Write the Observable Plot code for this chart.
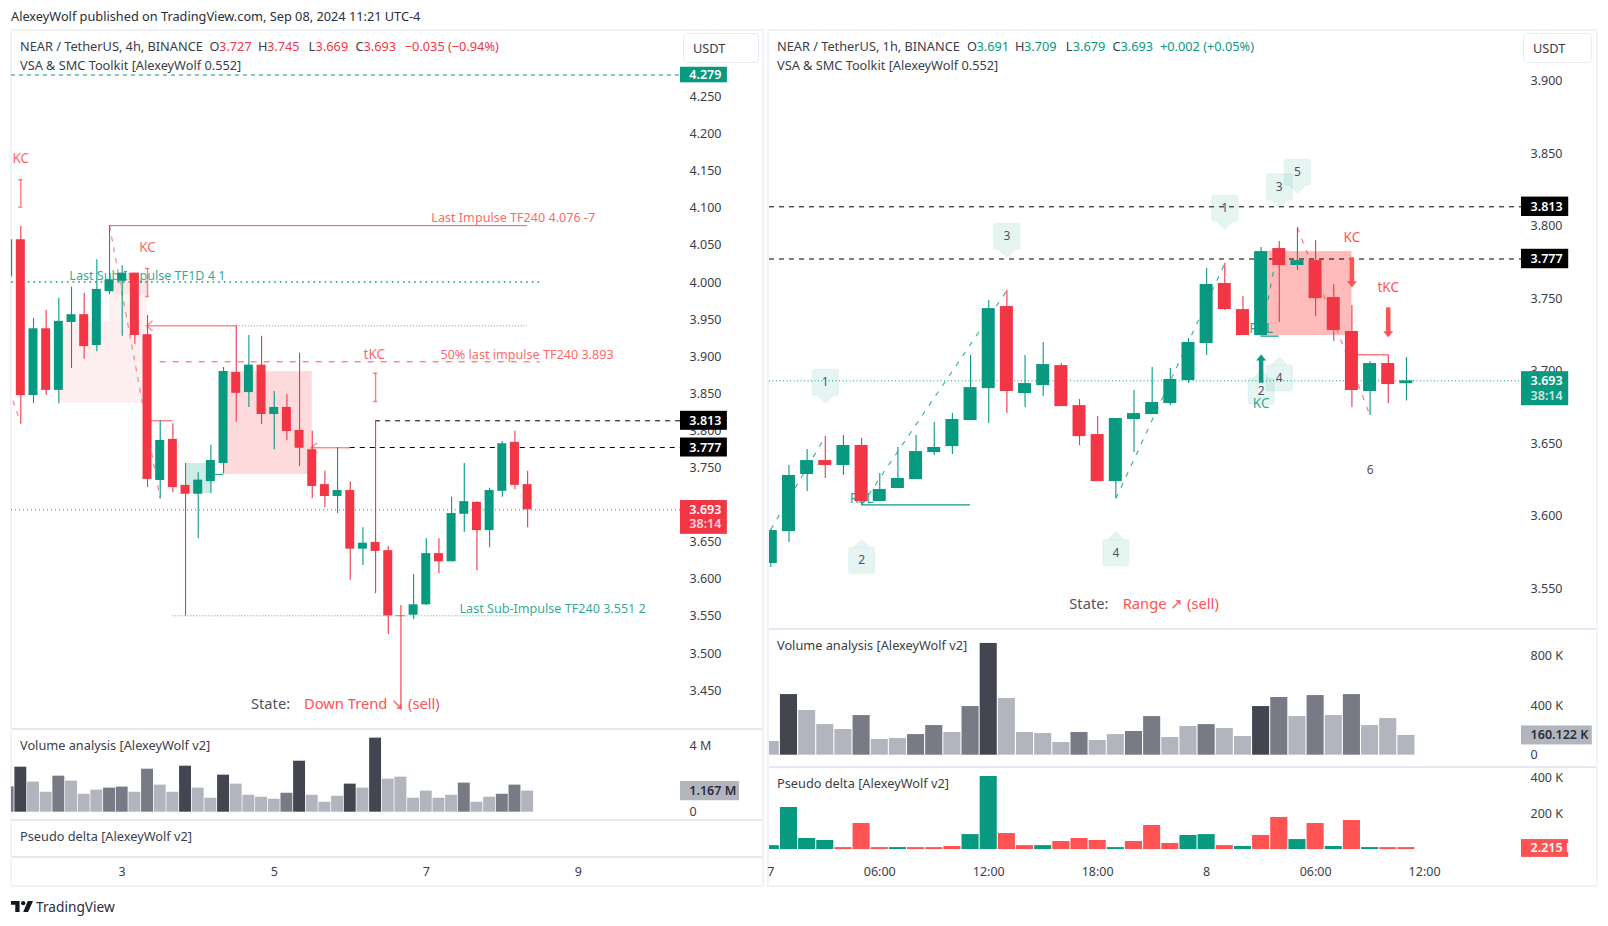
<!DOCTYPE html>
<html><head><meta charset="utf-8">
<script src="https://cdn.jsdelivr.net/npm/d3@7"></script>
<script src="https://cdn.jsdelivr.net/npm/@observablehq/plot@0.6"></script>
<style>
html,body{margin:0;padding:0;background:#fff;width:1608px;height:926px;overflow:hidden}
body{font-family:"Noto Sans",sans-serif;color:#3a3e4a;position:relative}
.abs{position:absolute;white-space:pre;font-size:12.75px;line-height:16px;transform:translateY(calc(-50% - 1px))}
.pane{position:absolute;box-sizing:border-box;border:2px solid #f0f3fa}
.div{position:absolute;height:1.5px;background:#e6e8f0}
.btn{position:absolute;box-sizing:border-box;background:#fff;border:1px solid #e9ebf2;border-radius:5px}
.mount{position:absolute}
.mount svg{overflow:visible;background:transparent}
</style></head><body><div id="root"></div>
<script>
// ---------- 4h chart (index -1 is the candle cut by the left edge) ----------
const leftOpen  =[4.007,4.057,3.847,3.937,3.854,3.9455,3.956,3.9145,3.987,4.001,4.012,3.929,3.7326,3.788,3.726,3.714,3.731,3.7555,3.878,3.851,3.888,3.8215,3.831,3.800,3.774,3.727,3.711,3.719,3.640,3.649,3.638,3.550,3.551,3.565,3.634,3.623,3.687,3.703,3.665,3.718,3.784,3.727];
const leftHigh  =[4.057,4.075,3.951,3.962,3.978,3.993,3.985,4.030,4.076,4.022,4.012,3.955,3.813,3.809,3.7555,3.743,3.780,3.885,3.941,3.928,3.927,3.8525,3.8485,3.904,3.799,3.745,3.777,3.731,3.669,3.813,3.644,3.564,3.606,3.654,3.654,3.710,3.7555,3.704,3.722,3.785,3.799,3.745];
const leftLow   =[4.007,3.809,3.836,3.847,3.836,3.8835,3.896,3.906,3.983,3.927,3.916,3.723,3.708,3.716,3.550,3.654,3.715,3.741,3.811,3.831,3.808,3.774,3.786,3.7515,3.708,3.696,3.688,3.598,3.618,3.580,3.525,3.423,3.545,3.564,3.607,3.623,3.6625,3.611,3.642,3.710,3.720,3.669];
const leftClose =[4.057,3.847,3.937,3.854,3.947,3.956,3.913,3.990,4.003,4.012,3.928,3.734,3.7865,3.723,3.714,3.733,3.7595,3.8795,3.850,3.888,3.8215,3.831,3.7986,3.776,3.7245,3.711,3.719,3.640,3.648,3.637,3.550,3.549,3.565,3.634,3.623,3.688,3.704,3.665,3.719,3.782,3.726,3.693];
const leftVolM  =[1.53,2.71,1.81,1.20,2.17,1.87,1.08,1.33,1.45,1.51,1.20,2.59,1.63,1.20,2.77,1.45,0.84,2.23,1.69,1.02,0.90,0.78,1.14,3.07,1.02,0.60,0.96,1.69,1.45,4.46,1.99,2.11,0.84,1.27,0.84,1.02,1.75,0.60,0.90,1.08,1.63,1.27];
const leftVolClass=[1,2,0,0,1,0,0,0,1,1,0,1,0,0,2,0,0,2,0,0,0,0,1,2,0,0,0,2,0,2,0,0,0,0,0,0,1,0,0,1,1,0];
const leftPriceTicks=[4.25,4.2,4.15,4.1,4.05,4.0,3.95,3.9,3.85,3.8,3.75,3.7,3.65,3.6,3.55,3.5,3.45];
const leftDayTicks=[8,20,32,44];
const leftDayLabels=["3","5","7","9"];
const leftNotes=[
  {t:"Last Impulse TF240 4.076 -7",i:32.4,p:4.0864},
  {t:"50% last impulse TF240 3.893",i:33.12,p:3.9015}
];
const leftKcNotes=[
  {t:"tKC",i:27.9,p:3.902},
  {t:"KC",i:0,p:4.166},
  {t:"KC",i:10,p:4.0457}
];
const leftTealNotes=[
  {t:"Last Sub-Impulse TF1D 4 1",i:3.83,p:4.0084},
  {t:"Last Sub-Impulse TF240 3.551 2",i:34.62,p:3.5592}
];
// ---------- 1h chart ----------
const rightOpen =[3.5670,3.5890,3.6284,3.6380,3.6346,3.6484,3.6097,3.6187,3.6249,3.6435,3.6476,3.6656,3.6876,3.7442,3.6842,3.6897,3.7035,3.6759,3.6559,3.6235,3.6663,3.6697,3.6773,3.6932,3.7187,3.7601,3.7421,3.7242,3.7842,3.7725,3.7759,3.7504,3.7270,3.6856,3.7049,3.691];
const rightHigh =[3.5904,3.6346,3.6456,3.6546,3.6553,3.6532,3.6290,3.6470,3.6553,3.6642,3.6704,3.7104,3.7483,3.7552,3.7104,3.7194,3.7049,3.6801,3.6683,3.6670,3.6863,3.7021,3.7015,3.7221,3.7704,3.7739,3.7511,3.7849,3.7890,3.7987,3.7897,3.7594,3.7449,3.7063,3.7109,3.709];
const rightLow  =[3.5642,3.5815,3.6166,3.6256,3.6277,3.6074,3.6097,3.6187,3.6249,3.6415,3.6421,3.6656,3.6635,3.6704,3.6745,3.6821,3.6752,3.6483,3.6235,3.6118,3.6435,3.6697,3.6759,3.6911,3.7104,3.7415,3.7242,3.7242,3.7332,3.7690,3.7373,3.7201,3.6746,3.6690,3.6773,3.679];
const rightClose=[3.5897,3.6277,3.6380,3.6346,3.6484,3.6097,3.6180,3.6256,3.6442,3.6470,3.6663,3.6883,3.7428,3.6856,3.6911,3.7042,3.6752,3.6545,3.6235,3.6670,3.6704,3.6780,3.6939,3.7194,3.7594,3.7421,3.7242,3.7821,3.7725,3.7759,3.7497,3.7277,3.6863,3.7049,3.6904,3.693];
const rightVolK =[111,491,362,248,208,321,127,135,167,240,184,394,905,459,184,176,103,184,119,167,192,313,143,232,248,216,151,394,467,313,483,321,491,240,297,160];
const rightVolClass=[0,2,0,0,0,1,0,0,1,1,0,1,2,0,0,0,0,1,0,0,1,1,0,0,1,0,0,2,1,0,1,0,1,0,0,0];
const rightDeltaK=[22,236,62,51,-11,-146,-11,11,-11,-11,-17,84,410,-90,-22,22,-45,-62,-51,11,-45,-135,-34,79,84,-22,17,-79,-180,56,-146,17,-163,11,-11,-11];
const rightPriceTicks=[3.9,3.85,3.8,3.75,3.7,3.65,3.6,3.55];
const rightHourTicks=[0,6,12,18,24,30,36];
const rightHourLabels=["7","06:00","12:00","18:00","8","06:00","12:00"];
const bubblesDown=[{n:"1",j:3,p:3.692},{n:"3",j:13,p:3.7927},{n:"1",j:25,p:3.812},{n:"3",j:28,p:3.8268},{n:"5",j:29,p:3.8369}];
const bubblesUp=[{n:"2",j:5,p:3.569},{n:"4",j:19,p:3.5744},{n:"2",j:27,p:3.6858},{n:"4",j:28,p:3.695}];
const rightRedNotes=[{t:"KC",j:32,p:3.7916},{t:"tKC",j:34,p:3.7575}];
const rightTealKc=[{t:"KC",j:27,p:3.6771}];
const rightTealRsl=[{t:"RSL",j:5,p:3.612},{t:"RSL",j:27,p:3.7293}];

const GREEN="#089981",RED="#f23645",SOFT="#ff5252",FONT='"Noto Sans",sans-serif';
const shade=["#b2b5be","#787b86","#434651"];
const root=document.getElementById("root");
function mount(node,left,top){const d=document.createElement("div");d.className="mount";d.style.left=left+"px";d.style.top=top+"px";d.appendChild(node);root.appendChild(d);}
function html(cls,css,text){const d=document.createElement("div");d.className=cls;Object.assign(d.style,css);if(text!=null)d.textContent=text;root.appendChild(d);return d;}
function label(x,y,text,color,size){return html("abs",{left:x+"px",top:y+"px",color:color||"#3a3e4a",fontSize:(size||12.75)+"px"},text);}
const style={fontFamily:FONT,fontSize:"12px",background:"transparent",overflow:"visible",color:"#3a3e4a"};

const zip=(o,h,l,c,start)=>o.map((_,k)=>({i:k+start,o:o[k],h:h[k],l:l[k],c:c[k]}));
const leftBars=zip(leftOpen,leftHigh,leftLow,leftClose,-1);
const rightBars=zip(rightOpen,rightHigh,rightLow,rightClose,0);
const dirColor=d=>d.c>=d.o?GREEN:RED;
const candles=(bars,half)=>[
  Plot.ruleX(bars,{x:"i",y1:"l",y2:"h",stroke:dirColor,strokeWidth:1.1,clip:true}),
  Plot.rect(bars,{x1:d=>d.i-half,x2:d=>d.i+half,y1:"o",y2:"c",fill:dirColor,clip:true})
];
const hline=(a,b,p,o)=>Plot.ruleY([p],{x1:()=>a,x2:()=>b,y:d=>d,...o});
const seg=(a,pa,b,pb,o)=>Plot.link([0],{x1:()=>a,y1:()=>pa,x2:()=>b,y2:()=>pb,...o});
const box=(a,b,p1,p2,o)=>Plot.rect([0],{x1:()=>a,x2:()=>b,y1:()=>p1,y2:()=>p2,...o});
const tagText=(x,p,t,color,o)=>Plot.text([t],{x:()=>x,y:()=>p,text:d=>d,fill:color,textAnchor:"start",fontWeight:600,fontSize:12.5,...o});
const ibeam=(i,p1,p2)=>[
  Plot.ruleX([i],{x:d=>d,y1:()=>p1,y2:()=>p2,stroke:SOFT,strokeOpacity:.75,strokeWidth:1.4}),
  Plot.ruleY([p1,p2],{x1:()=>i-.16,x2:()=>i+.16,y:d=>d,stroke:SOFT,strokeOpacity:.75,strokeWidth:1.4})
];
const chevron={draw(c){c.moveTo(5,-5);c.lineTo(-1,0);c.lineTo(5,5);}};
const headDown={draw(c){c.moveTo(-5,-5);c.lineTo(5,-5);c.lineTo(0,1);c.closePath();}};
const headUp={draw(c){c.moveTo(-5,5);c.lineTo(5,5);c.lineTo(0,-1);c.closePath();}};
const balloon=dir=>({draw(c){const w=13,h=13,r=2,t=8*dir;
  c.moveTo(-w+r,-h);c.lineTo(w-r,-h);c.quadraticCurveTo(w,-h,w,-h+r);
  if(dir>0){c.lineTo(w,h-r);c.quadraticCurveTo(w,h,w-r,h);c.lineTo(8,h);c.lineTo(0,h+t);c.lineTo(-8,h);c.lineTo(-w+r,h);c.quadraticCurveTo(-w,h,-w,h-r);c.lineTo(-w,-h+r);c.quadraticCurveTo(-w,-h,-w+r,-h);}
  else{c.lineTo(w,h-r);c.quadraticCurveTo(w,h,w-r,h);c.lineTo(-w+r,h);c.quadraticCurveTo(-w,h,-w,h-r);c.lineTo(-w,-h+r);c.quadraticCurveTo(-w,-h,-w+r,-h);c.lineTo(-8,-h);c.lineTo(0,-h+t);c.lineTo(8,-h);}
  c.closePath();}});

// ---------- frames ----------
html("pane",{left:"10px",top:"29px",width:"754px",height:"858px"});
html("pane",{left:"767px",top:"29px",width:"831px",height:"858px"});
[728,819,856].forEach(y=>html("div",{left:"12px",top:y+"px",width:"750px"}));
[628,766].forEach(y=>html("div",{left:"769px",top:y+"px",width:"827px"}));

// ---------- 4h price ----------
const lx=x=>(x-20.33)/12.67, lp=y=>3.813-(y-420.3)/742;
const LX0=lx(11),LX1=lx(680);
mount(Plot.plot({width:751,height:698,marginLeft:0,marginRight:82,marginTop:0,marginBottom:0,style,
  x:{domain:[LX0,LX1],axis:null},y:{domain:[lp(728),lp(30)]},
  marks:[
    box(3,10,3.9469,3.8364,{fill:RED,fillOpacity:.08}),
    box(7,10,4.003,3.9469,{fill:RED,fillOpacity:.07}),
    box(7.3,10,4.003,3.9833,{fill:RED,fillOpacity:.07}),
    box(16,23,3.8795,3.7407,{fill:RED,fillOpacity:.18}),
    box(13,15,3.7555,3.7151,{fill:GREEN,fillOpacity:.2}),
    Plot.text(leftNotes,{x:"i",y:"p",text:"t",fill:SOFT,fillOpacity:.9,textAnchor:"start",fontSize:12.6}),
    Plot.text(leftKcNotes,{x:"i",y:"p",text:"t",fill:SOFT,fillOpacity:.9,fontSize:13.5}),
    Plot.text(leftTealNotes,{x:"i",y:"p",text:"t",fill:GREEN,fillOpacity:.85,textAnchor:"start",fontSize:12.6}),
    hline(LX0,LX1,4.279,{stroke:GREEN,strokeDasharray:"4 4"}),
    hline(7,40,4.076,{stroke:SOFT}),
    hline(LX0,41,4.0,{stroke:GREEN,strokeWidth:1.6,strokeDasharray:"1.6 4"}),
    hline(10,17,3.941,{stroke:SOFT}),
    hline(17,40,3.941,{stroke:GREEN,strokeOpacity:.8,strokeDasharray:"1 2"}),
    hline(11,41,3.8925,{stroke:SOFT,strokeDasharray:"6 7"}),
    hline(10,12,3.813,{stroke:SOFT}),
    hline(15,16,3.7407,{stroke:GREEN}),
    hline(23,26,3.7766,{stroke:SOFT}),
    hline(26,LX1,3.777,{stroke:"#000",strokeDasharray:"5 5"}),
    hline(28,LX1,3.813,{stroke:"#000",strokeDasharray:"5 5"}),
    hline(12,39.5,3.5502,{stroke:GREEN,strokeOpacity:.8,strokeDasharray:"1 2"}),
    hline(LX0,LX1,3.693,{stroke:RED,strokeDasharray:"1 3"}),
    seg(7,4.076,11,3.708,{stroke:SOFT,strokeOpacity:.7,strokeDasharray:"5 6",strokeWidth:1.2}),
    seg(-.62,3.84,0,3.809,{stroke:SOFT,strokeOpacity:.7,strokeDasharray:"5 6",strokeWidth:1.2}),
    ...ibeam(0,4.1378,4.101),...ibeam(10,4.0183,3.9806),...ibeam(28,3.8771,3.839),
    Plot.dot([{i:10,p:3.941},{i:23,p:3.7766}],{x:"i",y:"p",symbol:chevron,fill:"none",stroke:SOFT,strokeOpacity:.6}),
    ...candles(leftBars,.355),
    Plot.axisY({anchor:"right",ticks:leftPriceTicks,tickFormat:d3.format(".3f"),tickSize:0,tickPadding:9,label:null,stroke:"none",fill:"#3a3e4a",fontSize:12.5,dy:0.5}),
    box(LX1,LX1+3.7,4.279+.0105,4.279-.0105,{fill:GREEN}),
    box(LX1,LX1+3.7,3.813+.0128,3.813-.0128,{fill:"#000"}),
    box(LX1,LX1+3.7,3.777+.0128,3.777-.0128,{fill:"#000"}),
    box(LX1,LX1+3.7,3.693+.0125,3.693-.033,{fill:RED}),
    tagText(LX1+.7,4.279,"4.279","#fff"),
    tagText(LX1+.7,3.813,"3.813","#fff"),
    tagText(LX1+.7,3.777,"3.777","#fff"),
    tagText(LX1+.7,3.693,"3.693","#fff"),
    tagText(LX1+.7,3.6735,"38:14","#fff",{fillOpacity:.8})
  ]}),11,30);

// ---------- 4h volume ----------
const leftVol=leftVolM.map((v,k)=>({i:k-1,v,s:leftVolClass[k]}));
mount(Plot.plot({width:751,height:91,marginLeft:0,marginRight:82,marginTop:0,marginBottom:0,style,
  x:{domain:[LX0,LX1],axis:null},y:{domain:[-.44,5.04]},
  marks:[
    Plot.rectY(leftVol,{x1:d=>d.i-.47,x2:d=>d.i+.47,y:"v",fill:d=>shade[d.s],clip:true}),
    Plot.axisY({anchor:"right",ticks:[0,4],tickFormat:d=>d?d+" M":"0",tickSize:0,tickPadding:9,label:null,stroke:"none",fill:"#3a3e4a",fontSize:12.5}),
    box(LX1,LX1+4.66,1.27+.58,1.27-.58,{fill:"#b2b5be"}),
    tagText(LX1+.7,1.27,"1.167 M","#2a2e39")
  ]}),11,728);

// ---------- 4h day axis ----------
mount(Plot.plot({width:751,height:30,marginLeft:0,marginRight:82,marginTop:0,marginBottom:29,style,
  x:{domain:[LX0,LX1]},
  marks:[Plot.axisX({anchor:"bottom",ticks:leftDayTicks,tickFormat:d=>leftDayLabels[leftDayTicks.indexOf(d)],tickSize:0,tickPadding:10,label:null,stroke:"none",fill:"#3a3e4a",fontSize:12.5})]}),11,856);

// ---------- 1h price ----------
const rx=x=>(x-770.3)/18.16, rp=y=>3.813-(y-206.3)/1450;
const RX0=rx(769),RX1=rx(1521);
mount(Plot.plot({width:827,height:598,marginLeft:0,marginRight:75,marginTop:0,marginBottom:0,style,
  x:{domain:[RX0,RX1],axis:null},y:{domain:[rp(628),rp(30)]},
  marks:[
    box(27,32,3.7821,3.7242,{fill:SOFT,fillOpacity:.4}),
    Plot.text(rightTealRsl,{x:"j",y:"p",text:"t",fill:GREEN,fillOpacity:.85,fontSize:14}),
    Plot.text(rightTealKc,{x:"j",y:"p",text:"t",fill:GREEN,fillOpacity:.85,fontSize:13.5}),
    Plot.text(rightRedNotes,{x:"j",y:"p",text:"t",fill:SOFT,fontSize:13.5}),
    hline(RX0,RX1,3.813,{stroke:"#000",strokeDasharray:"5 5"}),
    hline(RX0,RX1,3.777,{stroke:"#000",strokeDasharray:"5 5"}),
    hline(RX0,RX1,3.693,{stroke:GREEN,strokeDasharray:"1 2.5"}),
    hline(5,11,3.6074,{stroke:GREEN,strokeWidth:1.2}),
    hline(27,28,3.7238,{stroke:GREEN,strokeWidth:1.2}),
    hline(32,34,3.7109,{stroke:RED}),
    seg(0,3.5904,3,3.6546,{stroke:GREEN,strokeOpacity:.75,strokeDasharray:"5 7",strokeWidth:1.2}),
    seg(5,3.6074,13,3.7552,{stroke:GREEN,strokeOpacity:.75,strokeDasharray:"5 7",strokeWidth:1.2}),
    seg(19,3.6118,25,3.7739,{stroke:GREEN,strokeOpacity:.75,strokeDasharray:"5 7",strokeWidth:1.2}),
    seg(27,3.7242,28,3.789,{stroke:GREEN,strokeOpacity:.75,strokeDasharray:"5 7",strokeWidth:1.2}),
    seg(29,3.7987,33,3.669,{stroke:SOFT,strokeOpacity:.75,strokeDasharray:"5 7",strokeWidth:1.2}),
    ...candles(rightBars,.358),
    Plot.ruleX([27],{x:d=>d,y1:()=>3.6913,y2:()=>3.708,stroke:GREEN,strokeWidth:4.5}),
    Plot.dot([27],{x:d=>d,y:()=>3.7104,symbol:headUp,fill:GREEN}),
    Plot.ruleX([32],{x:d=>d,y1:()=>3.7778,y2:()=>3.760,stroke:SOFT,strokeWidth:4.5}),
    Plot.dot([32],{x:d=>d,y:()=>3.7582,symbol:headDown,fill:SOFT}),
    Plot.ruleX([34],{x:d=>d,y1:()=>3.7433,y2:()=>3.7256,stroke:SOFT,strokeWidth:4.5}),
    Plot.dot([34],{x:d=>d,y:()=>3.7238,symbol:headDown,fill:SOFT}),
    Plot.dot(bubblesDown,{x:"j",y:"p",symbol:balloon(1),fill:GREEN,fillOpacity:.1,stroke:GREEN,strokeOpacity:.05}),
    Plot.dot(bubblesUp,{x:"j",y:"p",symbol:balloon(-1),fill:GREEN,fillOpacity:.1,stroke:GREEN,strokeOpacity:.05}),
    Plot.text(bubblesDown,{x:"j",y:"p",text:"n",fill:"#50535e",fontSize:12}),
    Plot.text(bubblesUp,{x:"j",y:"p",text:"n",fill:"#50535e",fontSize:12}),
    Plot.text(["6"],{x:()=>33,y:()=>3.6316,text:d=>d,fill:"#50535e",fontSize:12}),
    Plot.axisY({anchor:"right",ticks:rightPriceTicks,tickFormat:d3.format(".3f"),tickSize:0,tickPadding:9,label:null,stroke:"none",fill:"#3a3e4a",fontSize:12.5,dy:0.5}),
    box(RX1,RX1+2.6,3.813+.0067,3.813-.0067,{fill:"#000"}),
    box(RX1,RX1+2.6,3.777+.0067,3.777-.0067,{fill:"#000"}),
    box(RX1,RX1+2.6,3.693+.0063,3.693-.0172,{fill:GREEN}),
    tagText(RX1+.5,3.813,"3.813","#fff"),
    tagText(RX1+.5,3.777,"3.777","#fff"),
    tagText(RX1+.5,3.693,"3.693","#fff"),
    tagText(RX1+.5,3.6825,"38:14","#fff",{fillOpacity:.8})
  ]}),769,30);

// ---------- 1h volume ----------
const rightVol=rightVolK.map((v,k)=>({i:k,v,s:rightVolClass[k]}));
mount(Plot.plot({width:827,height:138,marginLeft:0,marginRight:75,marginTop:0,marginBottom:0,style,
  x:{domain:[RX0,RX1],axis:null},y:{domain:[-91.5,1026]},
  marks:[
    Plot.rectY(rightVol,{x1:d=>d.i-.47,x2:d=>d.i+.47,y:"v",fill:d=>shade[d.s],clip:true}),
    Plot.axisY({anchor:"right",ticks:[0,400,800],tickFormat:d=>d?d+" K":"0",tickSize:0,tickPadding:9,label:null,stroke:"none",fill:"#3a3e4a",fontSize:12.5}),
    box(RX1,RX1+3.9,160+77,160-77,{fill:"#b2b5be"}),
    tagText(RX1+.5,160,"160.122 K","#2a2e39")
  ]}),769,628);

// ---------- 1h delta ----------
const rightDelta=rightDeltaK.map((v,k)=>({i:k,v:Math.abs(v),up:v>0}));
mount(Plot.plot({width:827,height:90,marginLeft:0,marginRight:75,marginTop:0,marginBottom:0,style,
  x:{domain:[RX0,RX1],axis:null},y:{domain:[-39,466]},
  marks:[
    Plot.rectY(rightDelta,{x1:d=>d.i-.47,x2:d=>d.i+.47,y:"v",fill:d=>d.up?GREEN:SOFT,clip:true}),
    Plot.axisY({anchor:"right",ticks:[200,400],tickFormat:d=>d+" K",tickSize:0,tickPadding:9,label:null,stroke:"none",fill:"#3a3e4a",fontSize:12.5}),
    box(RX1,RX1+2.6,6+50,6-50,{fill:SOFT}),
    tagText(RX1+.5,6,"2.215 K","#fff")
  ]}),769,766);

// ---------- 1h hour axis ----------
mount(Plot.plot({width:827,height:36,marginLeft:0,marginRight:75,marginTop:0,marginBottom:35,style,
  x:{domain:[RX0,RX1]},
  marks:[Plot.axisX({anchor:"bottom",ticks:rightHourTicks,tickFormat:(d,k)=>rightHourLabels[k],tickSize:0,tickPadding:16,label:null,stroke:"none",fill:"#3a3e4a",fontSize:12.5})]}),769,850);

// ---------- text & chrome ----------
label(11,16.7,"AlexeyWolf published on TradingView.com, Sep 08, 2024 11:21 UTC-4","#2a2e39");
label(20,46.7,"NEAR / TetherUS, 4h, BINANCE");
[["O",209.6,"3.727",9.5],["H",258,"3.745",9],["L",308.6,"3.669",7],["C",355.5,"3.693",8]].forEach(([k,x,v,g])=>{label(x,46.7,k);label(x+g,46.7,v,RED);});
label(404.8,46.7,"\u22120.035 (\u22120.94%)",RED);
label(20,66,"VSA & SMC Toolkit [AlexeyWolf 0.552]");
label(20,745.5,"Volume analysis [AlexeyWolf v2]");
label(20,836.5,"Pseudo delta [AlexeyWolf v2]");
label(777,46.7,"NEAR / TetherUS, 1h, BINANCE");
[["O",967,"3.691",9.5],["H",1015,"3.709",9],["L",1065.7,"3.679",7],["C",1112.5,"3.693",8]].forEach(([k,x,v,g])=>{label(x,46.7,k);label(x+g,46.7,v,GREEN);});
label(1160,46.7,"+0.002 (+0.05%)",GREEN);
label(777,66,"VSA & SMC Toolkit [AlexeyWolf 0.552]");
label(777,645.5,"Volume analysis [AlexeyWolf v2]");
label(777,783.5,"Pseudo delta [AlexeyWolf v2]");
html("btn",{left:"683px",top:"33px",width:"76px",height:"30px"});
html("btn",{left:"1523px",top:"33px",width:"69px",height:"30px"});
label(693,48.7,"USDT");
label(1533,48.7,"USDT");
label(251,703.5,"State:","#50535e",14.7);
label(304,703.5,"Down Trend \u2198 (sell)",SOFT,14.7);
label(1069.3,604,"State:","#50535e",14.7);
label(1122.7,604,"Range \u2197 (sell)",SOFT,14.7);
const logo=document.createElementNS("http://www.w3.org/2000/svg","svg");
logo.setAttribute("viewBox","0 0 36 18");logo.setAttribute("width","22");logo.setAttribute("height","11");
logo.style.cssText="position:absolute;left:11px;top:900.5px";
logo.innerHTML='<path fill="#131722" d="M14 0H0v6h7v12h7zM28 18h-8L27.5 0H36z"/><circle fill="#131722" cx="20" cy="3.5" r="3.5"/>';
root.appendChild(logo);
label(36,907.5,"TradingView","#2a2e39",13.7);
</script></body></html>
